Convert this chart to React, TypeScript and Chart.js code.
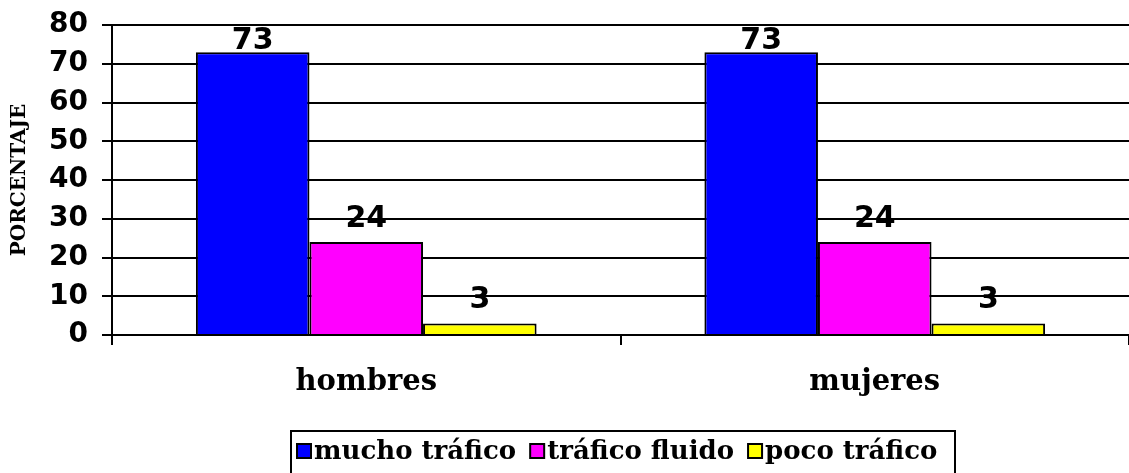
import React, { useEffect, useRef } from "react";
import { Chart, registerables } from "chart.js";

Chart.register(...registerables);

const categories = ["hombres", "mujeres"];
const seriesNames = ["mucho tráfico", "tráfico fluido", "poco tráfico"];
const muchoTrafico = [73, 73];
const traficoFluido = [24, 24];
const pocoTrafico = [3, 3];
const seriesColors = ["#0000FF", "#FF00FF", "#FFFF00"];
const yAxisTitle = "PORCENTAJE";
const yMin = 0;
const yMax = 80;
const yStep = 10;

const W = 1129;
const H = 473;

const dataLabelsPlugin = {
  id: "dataLabels",
  afterDatasetsDraw(chart: any) {
    const ctx = chart.ctx;
    const top = chart.chartArea.top;
    ctx.save();
    ctx.font = "bold 30px 'DejaVu Sans'";
    ctx.fillStyle = "#000";
    ctx.textAlign = "center";
    ctx.textBaseline = "alphabetic";
    chart.data.datasets.forEach((ds: any, i: number) => {
      const meta = chart.getDatasetMeta(i);
      meta.data.forEach((el: any, j: number) => {
        const y = Math.max(el.y - 15, top + 24);
        ctx.fillText(String(ds.data[j]), el.x, y);
      });
    });
    ctx.restore();
  },
};

const boxLegendPlugin = {
  id: "boxLegend",
  afterDraw(chart: any) {
    const ctx = chart.ctx;
    ctx.save();
    const boxL = 291;
    const boxT = 431;
    const boxR = 955;
    ctx.lineWidth = 2;
    ctx.strokeStyle = "#000";
    ctx.strokeRect(boxL, boxT, boxR - boxL, 60);
    ctx.font = "bold 26px 'DejaVu Serif'";
    ctx.textBaseline = "alphabetic";
    ctx.textAlign = "left";
    let x = 297;
    chart.data.datasets.forEach((ds: any) => {
      ctx.fillStyle = ds.backgroundColor;
      ctx.fillRect(x, 444, 14, 14);
      ctx.lineWidth = 2;
      ctx.strokeStyle = "#000";
      ctx.strokeRect(x, 444, 14, 14);
      ctx.fillStyle = "#000";
      ctx.fillText(ds.label, x + 17, 459);
      x += 17 + ctx.measureText(ds.label).width + 14;
    });
    ctx.restore();
  },
};

export default function App() {
  const ref = useRef<HTMLCanvasElement | null>(null);
  useEffect(() => {
    document.body.style.margin = "0";
    const canvas = ref.current;
    if (!canvas) return;
    const seriesValues = [muchoTrafico, traficoFluido, pocoTrafico];
    const chart = new Chart(canvas, {
      type: "bar",
      data: {
        labels: categories,
        datasets: seriesNames.map((name, i) => ({
          label: name,
          data: seriesValues[i],
          backgroundColor: seriesColors[i],
          borderColor: "#000",
          borderWidth: 2,
          barPercentage: 1,
          categoryPercentage: 0.67,
        })),
      },
      options: {
        responsive: false,
        animation: false,
        devicePixelRatio: 1,
        layout: { padding: { top: 25, left: 0, right: 0, bottom: 0 } },
        plugins: {
          legend: { display: false },
          tooltip: { enabled: false },
        },
        scales: {
          x: {
            offset: true,
            grid: {
              offset: true,
              drawOnChartArea: false,
              color: "#000",
              lineWidth: 2,
              tickLength: 10,
            },
            border: { display: true, color: "#000", width: 2 },
            ticks: {
              color: "#000",
              padding: 20,
              font: { family: "'DejaVu Serif'", weight: "bold", size: 29 },
            },
            afterFit(scale: any) {
              scale.height = 138;
            },
          },
          y: {
            min: yMin,
            max: yMax,
            ticks: {
              stepSize: yStep,
              color: "#000",
              padding: 14,
              font: { family: "'DejaVu Sans'", weight: "bold", size: 28, lineHeight: 0.4 },
            },
            grid: { color: "#000", lineWidth: 2, tickLength: 10 },
            border: { display: true, color: "#000", width: 2 },
            title: {
              display: true,
              text: yAxisTitle,
              color: "#000",
              padding: { top: 8, bottom: 0 },
              font: { family: "'DejaVu Serif'", weight: "bold", size: 20 },
            },
            afterFit(scale: any) {
              scale.width = 112;
            },
          },
        },
      },
      plugins: [dataLabelsPlugin, boxLegendPlugin],
    } as any);
    return () => chart.destroy();
  }, []);
  return (
    <div style={{ width: W, height: H }}>
      <canvas ref={ref} width={W} height={H} style={{ display: "block" }} />
    </div>
  );
}
